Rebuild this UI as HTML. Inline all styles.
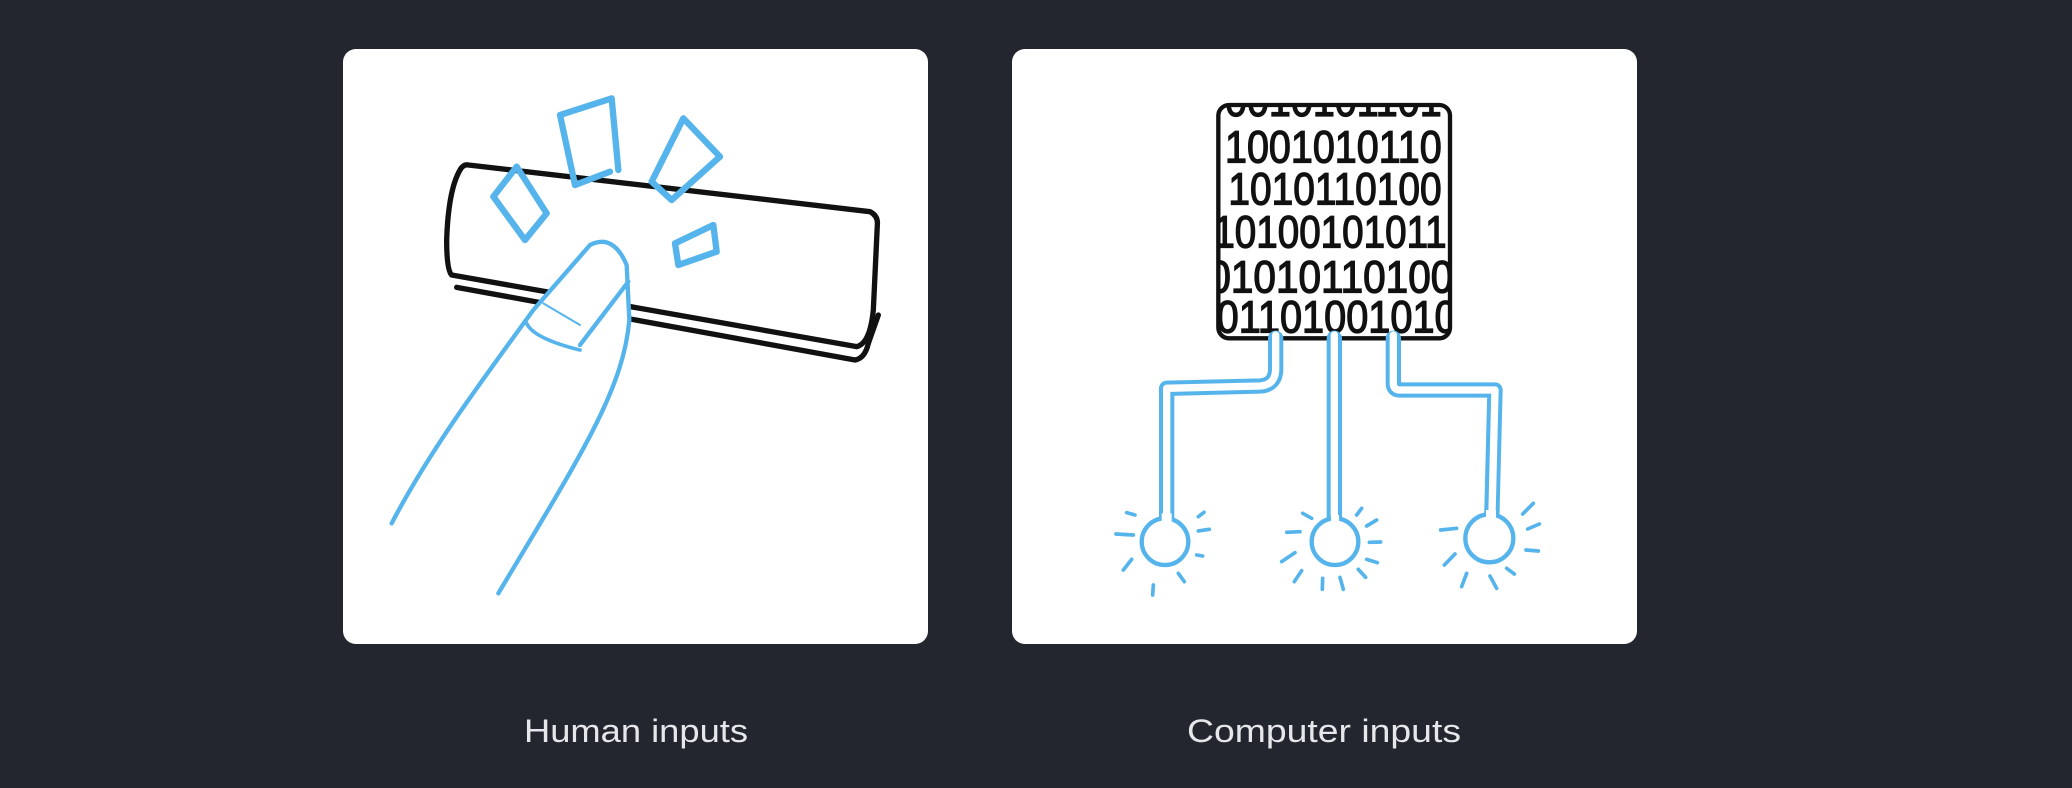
<!DOCTYPE html>
<html><head><meta charset="utf-8"><style>
html,body{margin:0;padding:0;background:#23262f;}
svg{display:block}
</style></head><body>
<svg width="2072" height="788" viewBox="0 0 2072 788" xmlns="http://www.w3.org/2000/svg">
<rect width="2072" height="788" fill="#23262f"/>
<rect x="343" y="49" width="585" height="595" rx="13" fill="#fff"/>
<rect x="1012" y="49" width="625" height="595" rx="13" fill="#fff"/>

<!-- Human inputs drawing -->
<g transform="translate(380,90) scale(0.33333)" fill="none" stroke-linecap="round" stroke-linejoin="round">
  <path d="M265,225 L1470,365 Q1495,378 1492,405 L1480,660 Q1470,760 1430,770 L215,555 Q200,540 200,450 Q205,300 240,240 Q250,222 265,225 Z" stroke="#111" stroke-width="16" fill="#fff"/>
  <path d="M230,592 L1425,810 Q1455,805 1465,760 L1495,675" stroke="#111" stroke-width="16"/>
  <path d="M35,1300 C150,1080 300,880 460,660 L630,465 Q700,430 740,525 L748,690 C730,900 600,1100 355,1510" stroke="#56b4ec" stroke-width="13" fill="#fff"/>
  <path d="M440,700 Q460,745 600,780" stroke="#56b4ec" stroke-width="11"/>
  <path d="M600,765 L745,575" stroke="#56b4ec" stroke-width="13"/>
  <path d="M490,640 L600,705" stroke="#56b4ec" stroke-width="6"/>
  <g stroke="#56b4ec" stroke-width="19">
    <path d="M340,320 L410,230 L500,370 L435,450 Z"/>
    <path d="M585,285 L540,75 L695,25 L715,240"/>
    <path d="M690,245 L585,285"/>
    <path d="M910,85 L1020,200 L875,330 L815,275 Z"/>
    <path d="M885,460 L1000,405 L1010,485 L895,525 Z"/>
  </g>
</g>

<!-- Chip -->
<defs><clipPath id="cc"><rect x="60" y="50" width="685" height="690" rx="28"/></clipPath></defs>
<g transform="translate(1200,90) scale(0.33333)">
  <rect x="55" y="45" width="695" height="700" rx="32" fill="#fff" stroke="#111" stroke-width="13"/>
  <g clip-path="url(#cc)" font-family="Liberation Sans, sans-serif" font-size="135" fill="#111" stroke="#111" stroke-width="4">
    <text x="75" y="78" textLength="650" lengthAdjust="spacingAndGlyphs">0010101101</text>
    <text x="75" y="218" textLength="650" lengthAdjust="spacingAndGlyphs">1001010110</text>
    <text x="85" y="343" textLength="640" lengthAdjust="spacingAndGlyphs">1010110100</text>
    <text x="40" y="473" textLength="700" lengthAdjust="spacingAndGlyphs">10100101011</text>
    <text x="25" y="608" textLength="735" lengthAdjust="spacingAndGlyphs">01010110100</text>
    <text x="50" y="728" textLength="720" lengthAdjust="spacingAndGlyphs">01101001010</text>
  </g>
</g>

<!-- Wires -->
<g transform="translate(1100,330) scale(0.33333)" fill="none" stroke-linecap="round" stroke-linejoin="round">
  <g stroke="#56b4ec" stroke-width="46">
    <path d="M527,25 L527,120 Q525,165 480,168 L200,175 L200,575"/>
    <path d="M703,25 L703,585"/>
    <path d="M880,25 L880,160 Q880,180 900,180 L1185,180 L1175,575"/>
  </g>
  <g stroke="#fff" stroke-width="22">
    <path d="M527,15 L527,120 Q525,165 480,168 L200,175 L200,590"/>
    <path d="M703,15 L703,600"/>
    <path d="M880,15 L880,160 Q880,180 900,180 L1185,180 L1175,590"/>
  </g>
  <g stroke="#56b4ec" stroke-width="13" fill="#fff">
    <circle cx="195" cy="635" r="70"/>
    <circle cx="705" cy="635" r="70"/>
    <circle cx="1168" cy="625" r="72"/>
  </g>
  <g fill="#fff">
    <rect x="185" y="550" width="30" height="30"/>
    <rect x="693" y="555" width="24" height="30"/>
    <rect x="1158" y="540" width="30" height="30"/>
  </g>
  <g stroke="#56b4ec" stroke-width="11">
    <path d="M80,548L105,555M48,612L100,615M70,720L95,688M160,765L158,795M235,730L253,755M290,675L308,678M295,603L328,598M295,560L312,547"/>
    <path d="M608,550L635,565M560,607L600,605M545,695L585,668M583,755L605,722M668,745L667,778M720,742L730,778M775,718L797,742M800,688L832,698M808,637L842,636M800,588L830,570M770,555L785,535"/>
    <path d="M1022,600L1070,595M1033,705L1065,672M1085,770L1100,730M1170,738L1190,775M1220,715L1243,732M1278,660L1315,663M1283,597L1318,582M1268,552L1300,520"/>
  </g>
</g>

<text x="524" y="742" font-family="Liberation Sans, sans-serif" font-size="32" fill="#e6e7ea" textLength="224" lengthAdjust="spacingAndGlyphs">Human inputs</text>
<text x="1187" y="742" font-family="Liberation Sans, sans-serif" font-size="32" fill="#e6e7ea" textLength="274" lengthAdjust="spacingAndGlyphs">Computer inputs</text>
</svg>
</body></html>
